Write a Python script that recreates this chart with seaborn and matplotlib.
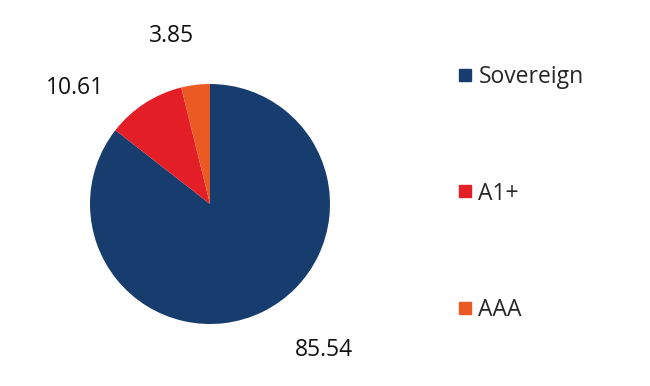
import matplotlib
matplotlib.use("Agg")
import matplotlib.pyplot as plt
import seaborn as sns
from matplotlib.lines import Line2D

categories = ["Sovereign", "A1+", "AAA"]
values = [85.54, 10.61, 3.85]
value_labels = ["85.54", "10.61", "3.85"]
colors = ["#173c6e", "#e31e26", "#ec5a24"]

sns.set_theme(style="white")
plt.rcParams['font.family'] = ['Open Sans', 'DejaVu Sans']

fig = plt.figure(figsize=(6.5, 3.86), dpi=100)
ax = fig.add_axes([90/650, (386-324)/386, 240/650, 240/386])
ax.pie(values, colors=colors, startangle=90, counterclock=False,
       wedgeprops=dict(linewidth=0))
ax.set_xlim(-1, 1)
ax.set_ylim(-1, 1)
ax.set_aspect('equal')
ax.axis('off')

label_pos = [(0.95, -1.22), (-1.125, 0.97), (-0.32, 1.40)]
for (x, y), t in zip(label_pos, value_labels):
    ax.text(x, y, t, ha='center', va='center', fontsize=16.5, color='#111111', clip_on=False)

handles = [Line2D([0], [0], marker='s', linestyle='none', markersize=8,
                  markerfacecolor=c, markeredgecolor=c) for c in colors]
leg = fig.legend(handles, categories, loc='upper left', bbox_to_anchor=(444/650, 1 - 56/386),
                 frameon=False, fontsize=16.5, labelspacing=4.03, handletextpad=0.1,
                 handlelength=1.0, borderaxespad=0)
fig.savefig("out.png", dpi=100)
